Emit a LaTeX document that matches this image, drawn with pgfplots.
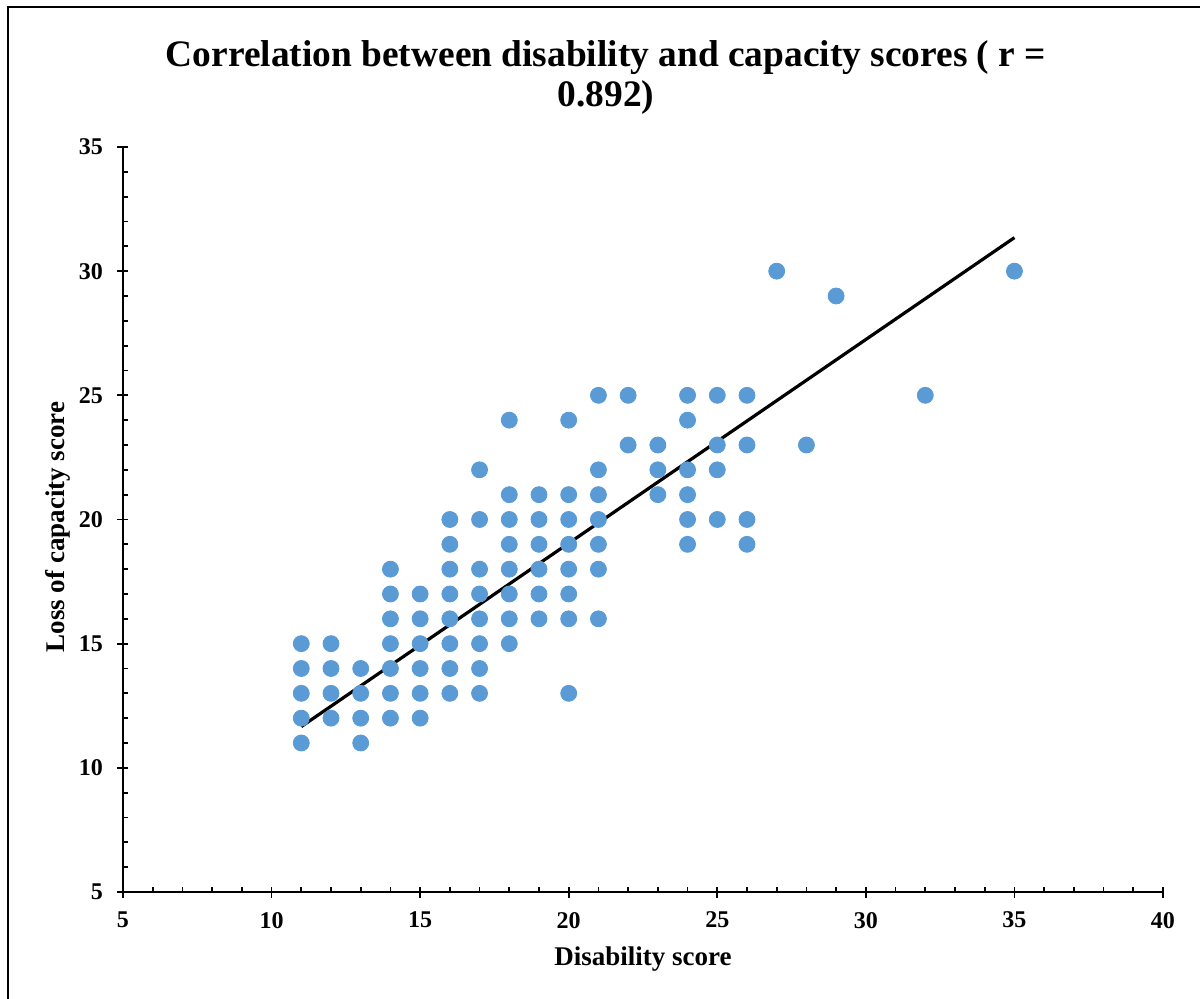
\documentclass[border=0pt]{standalone}
\usepackage{pgfplots}
\pgfplotsset{compat=1.18}
\usepackage{fontspec}
\setmainfont{Liberation Serif}
\definecolor{dotblue}{HTML}{5B9BD5}

\begin{document}
\begin{tikzpicture}
\useasboundingbox (-61.5pt,-53.5pt) rectangle (538.5pt,446pt);
% chart area frame
\draw[line width=1pt] (-57.5pt,-60pt) -- (-57.5pt,442.5pt) -- (545pt,442.5pt);
\begin{axis}[
  scale only axis,
  width=520pt, height=372.5pt,
  xmin=5, xmax=40, ymin=5, ymax=35,
  axis lines=left,
  axis line style={-, line width=1pt},
  xtick={5,10,...,40}, ytick={5,10,...,35},
  minor tick num=4,
  tick align=inside,
  major tick length=2.5pt, minor tick length=2.5pt,
  every tick/.style={black, line width=0.9pt},
  extra x ticks={5,10,...,40}, extra y ticks={5,10,...,35},
  extra x tick style={tick align=outside, major tick length=3pt, xticklabel={}},
  extra y tick style={tick align=outside, major tick length=3pt, yticklabel={}},
  /pgf/number format/assume math mode=true,
  tick label style={font=\bfseries\fontsize{12}{14}\selectfont},
  xticklabel style={yshift=-6.5pt},
  yticklabel style={xshift=-6.5pt},
  xlabel={Disability score},
  ylabel={Loss of capacity score},
  label style={font=\bfseries\fontsize{13.5}{16}\selectfont},
  xlabel style={at={(axis description cs:0.5,-0.09)}, anchor=center},
  ylabel style={at={(axis description cs:-0.0625,0.49)}, anchor=center},
  title={Correlation between disability and capacity scores ( r =\\0.892)},
  title style={at={(axis description cs:0.4644,1)}, anchor=center, yshift=28.5pt,
    align=center, font=\bfseries\fontsize{18.7}{20}\selectfont},
  clip=false,
]
% scores of each respondent
\addplot[only marks, mark=*, mark size=4pt, mark options={fill=dotblue, draw=dotblue}] coordinates {
(11,15) (11,14) (11,13) (11,12) (11,11)
(12,15) (12,14) (12,13) (12,12)
(13,14) (13,13) (13,12) (13,11)
(14,18) (14,17) (14,16) (14,15) (14,14) (14,13) (14,12)
(15,17) (15,16) (15,15) (15,14) (15,13) (15,12)
(16,20) (16,19) (16,18) (16,17) (16,16) (16,15) (16,14) (16,13)
(17,22) (17,20) (17,18) (17,17) (17,16) (17,15) (17,14) (17,13)
(18,24) (18,21) (18,20) (18,19) (18,18) (18,17) (18,16) (18,15)
(19,21) (19,20) (19,19) (19,18) (19,17) (19,16)
(20,24) (20,21) (20,20) (20,19) (20,18) (20,17) (20,16) (20,13)
(21,25) (21,22) (21,21) (21,20) (21,19) (21,18) (21,16)
(22,25) (22,23)
(23,23) (23,22) (23,21)
(24,25) (24,24) (24,22) (24,21) (24,20) (24,19)
(25,25) (25,23) (25,22) (25,20)
(26,25) (26,23) (26,20) (26,19)
(27,30) (28,23) (29,29) (32,25) (35,30)
};
% linear fit
\addplot[black, line width=1.6pt] coordinates {(11,11.66) (35,31.35)};
\end{axis}
\end{tikzpicture}
\end{document}
